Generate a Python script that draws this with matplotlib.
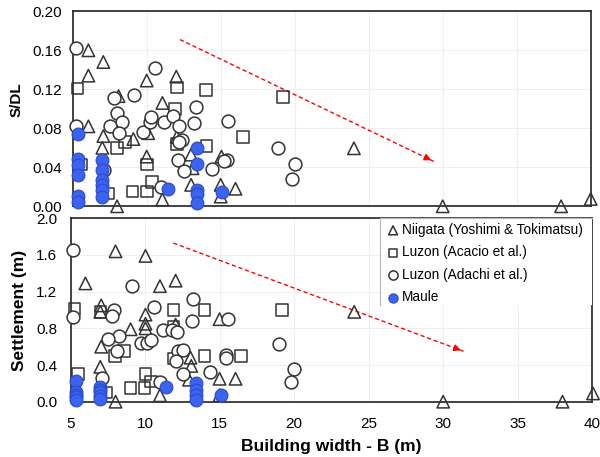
import numpy as np
import matplotlib
matplotlib.use("Agg")
import matplotlib.pyplot as plt
from matplotlib.lines import Line2D
from matplotlib.patches import Rectangle

plt.rcParams['font.family'] = ['Liberation Sans', 'DejaVu Sans']

# ---- top panel: S/DL vs building width ----
niigata_b_top = [6.06, 7.07, 6.06, 10.0, 12.0, 8.1, 11.06, 6.06, 7.07, 7.0, 9.1, 10.1, 10.0,
                 12.03, 13.0, 13.1, 13.0, 11.06, 8.0, 15.0, 15.0, 16.0, 15.05, 24.0, 30.0, 38.0, 40.0]
niigata_s_top = [0.160, 0.148, 0.134, 0.129, 0.133, 0.113, 0.106, 0.082, 0.072, 0.060, 0.069, 0.075, 0.051,
                 0.071, 0.053, 0.039, 0.022, 0.007, 0.0, 0.022, 0.010, 0.018, 0.051, 0.0595, 0.0, 0.0, 0.0075]
acacio_b_top = [5.32, 12.03, 14.0, 11.9, 19.2, 16.5, 14.05, 12.03, 8.54, 8.0, 10.0, 5.6, 10.34,
                9.05, 10.0, 7.4]
acacio_s_top = [0.121, 0.122, 0.119, 0.100, 0.112, 0.071, 0.062, 0.064, 0.066, 0.060, 0.043, 0.043, 0.025,
                0.015, 0.015, 0.013]
adachi_b_top = [5.23, 10.56, 5.23, 7.8, 9.14, 7.98, 8.3, 7.55, 8.15, 9.77, 10.2, 10.3, 11.2, 11.8,
                12.15, 12.4, 12.2, 13.3, 13.2, 15.5, 12.1, 12.55, 14.4, 15.4, 15.2, 11.0, 7.1,
                18.9, 20.0, 19.8]
adachi_s_top = [0.162, 0.142, 0.082, 0.111, 0.114, 0.096, 0.086, 0.082, 0.075, 0.076, 0.086, 0.092, 0.086, 0.093,
                0.082, 0.068, 0.066, 0.102, 0.085, 0.087, 0.047, 0.036, 0.038, 0.047, 0.046, 0.020, 0.037,
                0.060, 0.043, 0.028]
maule_b_top = [5.38, 5.38, 5.38, 5.38, 5.38, 5.38, 7.0, 7.0, 7.0, 7.0, 7.0, 7.0,
               11.46, 13.42, 13.42, 13.42, 13.42, 13.42, 15.1]
maule_s_top = [0.074, 0.049, 0.042, 0.032, 0.0106, 0.0047, 0.047, 0.037, 0.027, 0.022, 0.017, 0.010,
               0.018, 0.060, 0.043, 0.017, 0.0126, 0.003, 0.015]

# ---- bottom panel: settlement vs building width ----
niigata_b_bot = [8.02, 10.03, 6.0, 11.0, 12.05, 7.06, 7.0, 10.03, 10.03, 10.03, 9.03, 12.05, 7.06, 7.0,
                 8.02, 13.05, 13.1, 12.95, 11.0, 15.0, 16.07, 15.0, 15.0, 24.03, 30.0, 38.0, 40.05]
niigata_s_bot = [1.64, 1.59, 1.29, 1.26, 1.32, 1.05, 0.98, 0.95, 0.85, 0.80, 0.79, 0.84, 0.60, 0.38,
                 0.0, 0.48, 0.39, 0.24, 0.07, 0.25, 0.25, 0.90, 0.07, 0.98, 0.0, 0.0, 0.09]
acacio_b_bot = [5.27, 7.0, 11.9, 14.0, 19.2, 11.9, 8.0, 8.6, 14.0, 16.45, 11.9, 5.5, 10.03, 10.4,
                9.03, 9.97, 7.4]
acacio_s_bot = [1.01, 0.98, 1.0, 1.0, 1.0, 0.82, 0.50, 0.55, 0.50, 0.50, 0.47, 0.30, 0.30, 0.22,
                0.15, 0.15, 0.10]
adachi_b_bot = [5.18, 5.18, 9.14, 7.95, 7.8, 10.6, 13.23, 13.17, 15.56, 15.4, 15.45, 8.24, 7.5, 8.13,
                9.7, 10.1, 10.4, 11.2, 11.8, 12.16, 12.2, 12.56, 12.1, 12.56, 14.35, 7.13, 11.0,
                18.98, 20.0, 19.8]
adachi_s_bot = [1.65, 0.92, 1.26, 1.0, 0.93, 1.03, 1.12, 0.88, 0.90, 0.51, 0.48, 0.72, 0.68, 0.55,
                0.64, 0.64, 0.67, 0.78, 0.78, 0.76, 0.55, 0.56, 0.44, 0.30, 0.32, 0.26, 0.22,
                0.63, 0.36, 0.21]
maule_b_bot = [5.4, 5.4, 5.4, 5.4, 5.4, 7.0, 7.0, 7.0, 7.0, 7.0,
               11.4, 13.42, 13.42, 13.42, 13.42, 15.1]
maule_s_bot = [0.225, 0.11, 0.07, 0.05, 0.018, 0.163, 0.125, 0.109, 0.062, 0.026,
               0.156, 0.20, 0.127, 0.073, 0.018, 0.073]

# trend arrows (start, end)
arrow_top = [(12.25, 0.171), (29.4, 0.046)]
arrow_bot = [(11.9, 1.73), (31.36, 0.55)]

series_labels = ['Niigata (Yoshimi & Tokimatsu)', 'Luzon (Acacio et al.)',
                 'Luzon (Adachi et al.)', 'Maule']

edge = '#333333'
blue = '#3b63f0'

fig = plt.figure(figsize=(6.0, 4.57), dpi=100)
ax1 = fig.add_axes([72.7 / 600, 1 - 206.3 / 457, (590.7 - 72.7) / 600, (206.3 - 11.3) / 457])
ax2 = fig.add_axes([70.5 / 600, 1 - 401.7 / 457, (592.3 - 70.5) / 600, (401.7 - 218.3) / 457])


def draw(ax, nb, ns, ab, as_, db, ds, mb, ms):
    ax.scatter(nb, ns, marker='^', s=80, facecolors='none', edgecolors=edge, linewidths=1.1,
               clip_on=False, zorder=3, label=series_labels[0])
    ax.scatter(ab, as_, marker='s', s=70, facecolors='none', edgecolors=edge, linewidths=1.1,
               clip_on=False, zorder=3, label=series_labels[1])
    ax.scatter(db, ds, marker='o', s=85, facecolors='white', edgecolors=edge, linewidths=1.1,
               clip_on=False, zorder=3, label=series_labels[2])
    ax.scatter(mb, ms, marker='o', s=85, facecolors=blue, edgecolors='#2a4ad0', linewidths=0.8,
               clip_on=False, zorder=4, label=series_labels[3])
    ax.set_xlim(5, 40)
    ax.set_xticks([5, 10, 15, 20, 25, 30, 35, 40])
    ax.grid(True, color='#eeeeee', linewidth=0.8)
    ax.set_axisbelow(True)
    ax.tick_params(length=0, labelsize=11)
    for sp in ax.spines.values():
        sp.set_color('#222222')
        sp.set_linewidth(1.2)


def trend(ax, pts):
    (x0, y0), (x1, y1) = pts
    ax.plot([x0, x1], [y0, y1], color='red', ls='--', lw=1.0, dashes=(3, 2), zorder=2)
    ax.annotate('', xy=(x1, y1), xytext=(x0 + (x1 - x0) * 0.97, y0 + (y1 - y0) * 0.97),
                arrowprops=dict(arrowstyle='-|>', color='red', lw=1.0, mutation_scale=10))


draw(ax1, niigata_b_top, niigata_s_top, acacio_b_top, acacio_s_top,
     adachi_b_top, adachi_s_top, maule_b_top, maule_s_top)
ax1.set_ylim(0, 0.20)
ax1.set_yticks([0.0, 0.04, 0.08, 0.12, 0.16, 0.20])
ax1.set_yticklabels(['0.00', '0.04', '0.08', '0.12', '0.16', '0.20'])
ax1.set_xticklabels([])
ax1.tick_params(axis='y', pad=8)
ax1.set_ylabel('S/DL', fontsize=11, fontweight='bold')
ax1.yaxis.set_label_coords(-0.094, 0.545)
trend(ax1, arrow_top)

draw(ax2, niigata_b_bot, niigata_s_bot, acacio_b_bot, acacio_s_bot,
     adachi_b_bot, adachi_s_bot, maule_b_bot, maule_s_bot)
ax2.set_ylim(0, 2.0)
ax2.set_yticks([0.0, 0.4, 0.8, 1.2, 1.6, 2.0])
ax2.set_yticklabels(['0.0', '0.4', '0.8', '1.2', '1.6', '2.0'])
ax2.tick_params(axis='y', pad=9.5)
ax2.tick_params(axis='x', pad=11)
ax2.set_ylabel('Settlement (m)', fontsize=12.5, fontweight='bold')
ax2.yaxis.set_label_coords(-0.083, 0.5)
ax2.set_xlabel('Building width - B (m)', fontsize=12.5, fontweight='bold', labelpad=6)
trend(ax2, arrow_bot)

# legend box: white, left and top borders only
box_x0, box_y0 = 0.593, 0.527
ax2.add_patch(Rectangle((box_x0, box_y0), 1 - box_x0, 1 - box_y0, transform=ax2.transAxes,
                        facecolor='white', edgecolor='none', zorder=5, clip_on=False))
ax2.add_line(Line2D([box_x0, box_x0, 1.0], [box_y0, 1.0, 1.0], transform=ax2.transAxes,
                    color='#bbbbbb', lw=0.9, zorder=6, clip_on=False))
leg = ax2.legend(loc='upper left', bbox_to_anchor=(0.6077, 0.975), fontsize=9.8, frameon=False,
                 handletextpad=0.25, handlelength=0.8, borderpad=0, labelspacing=0.62,
                 markerscale=0.72, borderaxespad=0)
leg.set_zorder(10)

fig.savefig('out.png', dpi=100)
